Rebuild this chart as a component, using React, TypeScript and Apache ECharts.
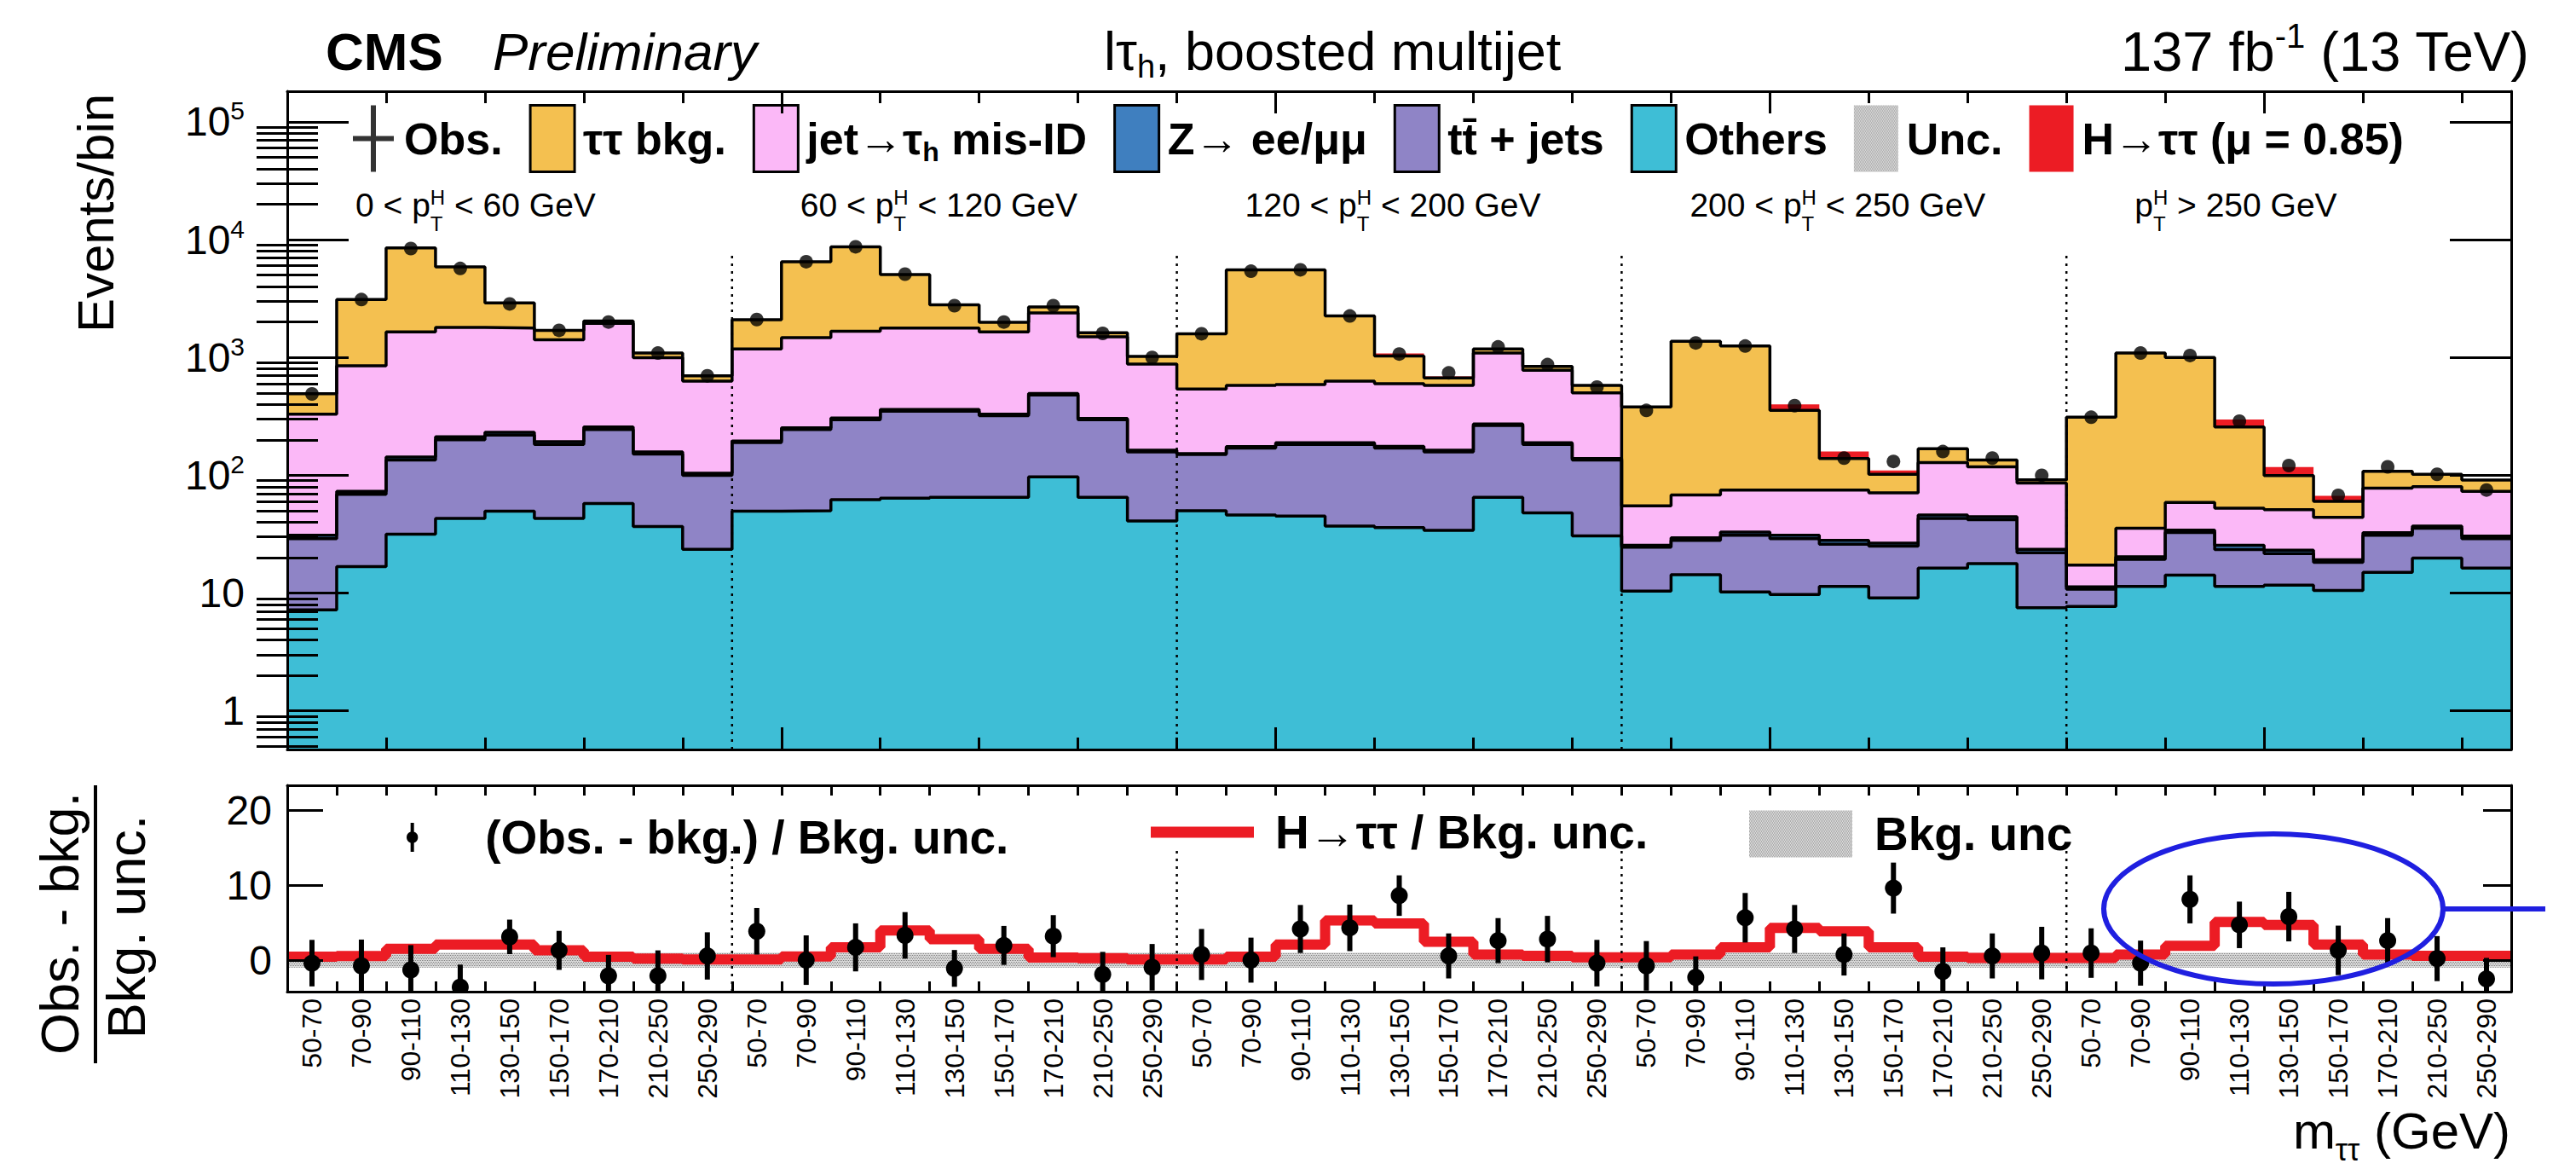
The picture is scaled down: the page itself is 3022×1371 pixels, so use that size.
import React, { useEffect, useRef } from 'react';
import * as echarts from 'echarts';

const FONT = 'Liberation Sans';

// ---------------- data ----------------
const massBins = ['50-70', '70-90', '90-110', '110-130', '130-150', '150-170', '170-210', '210-250', '250-290'];
const ptCategories: [string, string][] = [
  ['0 < ', ' < 60 GeV'],
  ['60 < ', ' < 120 GeV'],
  ['120 < ', ' < 200 GeV'],
  ['200 < ', ' < 250 GeV'],
  ['', ' > 250 GeV'],
];

const others = [
  7.2, 16.8, 31.6, 43, 49.6, 43, 57.6, 36.7, 23.5,
  49.6, 50, 62, 64, 65, 65, 97, 65, 41,
  50, 46, 45, 37, 36, 34, 65, 48, 30.6,
  10.4, 14.3, 10.2, 9.7, 11.4, 9.1, 16.3, 17.8, 7.5,
  7.7, 11.4, 14.2, 11.4, 11.7, 10.5, 15, 19.8, 16.3,
];
const ttbar = [
  21.8, 52.2, 103, 157, 170, 140, 187, 115, 76.5,
  140, 195, 234, 286, 285, 255, 383, 231, 117,
  100, 124, 138, 146, 134, 124, 200, 135, 104,
  14.1, 13.7, 20.8, 19.3, 14.6, 15.9, 26.7, 24.2, 14.5,
  3.1, 7.9, 18.5, 12, 9.9, 7.7, 16, 15.7, 12.7,
];
const zll = [
  2, 4, 8, 12, 12, 10, 12, 6, 4,
  6, 8, 10, 12, 12, 10, 14, 8, 5,
  3, 5, 6, 6, 6, 5, 8, 6, 4,
  1, 1.5, 2, 2, 2, 1.5, 3, 2.5, 1.5,
  0.5, 1, 1.5, 2, 1.5, 1, 1.5, 1.5, 1.5,
];
const misid = [
  299, 777, 1507, 1588, 1548, 1217, 1693, 837, 526,
  984, 1217, 1364, 1418, 1418, 1320, 1896, 1196, 714,
  387, 405, 401, 441, 424, 417, 817, 591, 361,
  29.5, 38.5, 42, 44, 47, 44.5, 82, 73.5, 62.5,
  6, 15.2, 24.5, 27.1, 27.9, 24.8, 45.1, 43, 42.5,
];
const tautau = [
  163, 2250, 6850, 4070, 1120, 290, 90, 95, 70,
  910, 5030, 7030, 3270, 1020, 340, 290, 120, 143,
  1050, 4970, 4960, 1620, 430, 90, 90, 60, 80,
  325, 1302, 1175, 281, 64, 31, 40, 17, 5.5,
  294, 1055, 941, 204.5, 48.5, 16, 30.4, 22, 18,
];
const signal = [
  2, 6, 25, 45, 40, 20, 8, 3, 1,
  2, 8, 30, 70, 55, 25, 8, 3, 1,
  2, 6, 25, 60, 50, 20, 8, 3, 1,
  1, 3, 12, 44, 20, 8, 3, 1, 0.5,
  1, 3, 12, 40, 18, 7, 3, 1, 0.5,
];
const observed = [
  490, 3100, 8400, 5700, 2850, 1700, 2000, 1090, 700,
  2100, 6500, 8700, 5100, 2750, 2000, 2750, 1600, 1000,
  1590, 5400, 5550, 2250, 1070, 740, 1230, 870, 560,
  355, 1330, 1250, 390, 140, 131, 159, 140, 100,
  311, 1090, 1040, 288, 121, 67.5, 118, 102, 75,
];
// (Obs. - bkg.) / Bkg. unc.
const pull = [
  -0.4, -0.76, -1.3, -3.6, 3.1, 1.3, -2.1, -2.1, 0.56,
  3.84, 0, 1.7, 3.3, -1.1, 1.96, 3.2, -1.9, -0.95,
  0.75, 0, 4.15, 4.3, 8.6, 0.56, 2.6, 2.8, -0.4,
  -0.76, -2.3, 5.65, 4.15, 0.75, 9.6, -1.5, 0.56, 0.94,
  0.94, -0.4, 8.1, 4.7, 5.8, 1.3, 2.6, 0.2, -2.5,
];
const pullErr = [
  3.1, 3.5, 3.3, 3.0, 2.3, 2.6, 2.8, 3.4, 3.15,
  3.1, 3.3, 3.2, 3.1, 2.45, 2.6, 2.8, 3.0, 3.1,
  3.4, 3.0, 3.2, 3.1, 2.7, 3.0, 3.0, 3.1, 3.1,
  3.3, 2.8, 3.3, 3.2, 2.8, 3.4, 3.2, 3.0, 3.5,
  3.3, 3.0, 3.2, 3.1, 3.3, 3.3, 3.0, 3.0, 2.8,
];
// H->tautau / Bkg. unc.
const signalOverUnc = [
  0.45, 0.55, 1.5, 2.07, 2.07, 1.3, 0.45, 0.2, 0.1,
  0.1, 0.5, 1.7, 3.95, 2.8, 1.5, 0.35, 0.25, 0.1,
  0.1, 0.45, 2.07, 5.3, 4.9, 2.45, 0.75, 0.56, 0.38,
  0.38, 0.75, 1.7, 4.3, 3.84, 1.7, 0.45, 0.3, 0.3,
  0.3, 0.75, 1.9, 5.1, 4.7, 2.07, 0.75, 0.56, 0.56,
];
const uncBand = [-1, 1];
const logLabelTicks = [1, 10, 100, 1000, 10000, 100000];
const ratioLabelTicks = [0, 10, 20];

const COLORS = {
  tautau: '#f4c050',
  misid: '#fbb8f7',
  zll: '#3f7fbf',
  ttbar: '#8f84c6',
  others: '#3ebed6',
  signal: '#ec1c24',
};

// ---------------- helpers ----------------
type Run = { t: string; size: number; dy?: number; weight?: string; style?: string; stackNext?: boolean };
let measureCtx: CanvasRenderingContext2D | null = null;
function measure(r: Run): number {
  if (!measureCtx) measureCtx = document.createElement('canvas').getContext('2d');
  measureCtx!.font = `${r.style || 'normal'} ${r.weight || 'normal'} ${r.size}px "${FONT}"`;
  return measureCtx!.measureText(r.t).width;
}
function runsElements(runs: Run[], x: number, y: number, align: 'left' | 'center' | 'right') {
  const placed: { r: Run; dx: number }[] = [];
  let cur = 0;
  for (let i = 0; i < runs.length; i++) {
    const r = runs[i];
    if (r.stackNext && i + 1 < runs.length) {
      const r2 = runs[i + 1];
      placed.push({ r, dx: cur });
      placed.push({ r: r2, dx: cur });
      cur += Math.max(measure(r), measure(r2));
      i++;
    } else {
      placed.push({ r, dx: cur });
      cur += measure(r);
    }
  }
  const x0 = align === 'left' ? x : align === 'center' ? x - cur / 2 : x - cur;
  return placed.map(({ r, dx }) => ({
    type: 'text',
    x: x0 + dx,
    y: y + (r.dy || 0),
    z: 100,
    silent: true,
    style: {
      text: r.t,
      fontSize: r.size,
      fontFamily: FONT,
      fontWeight: r.weight || 'normal',
      fontStyle: r.style || 'normal',
      fill: '#000',
      align: 'left',
      verticalAlign: 'middle',
    },
  }));
}

function makeHatch() {
  const c = document.createElement('canvas');
  c.width = 4;
  c.height = 4;
  const g = c.getContext('2d')!;
  g.fillStyle = 'rgba(150,150,150,0.35)';
  g.fillRect(0, 0, 4, 4);
  g.fillStyle = 'rgba(90,90,90,0.7)';
  g.fillRect(0, 0, 1, 1);
  g.fillRect(2, 0, 1, 1);
  g.fillRect(1, 2, 1, 1);
  g.fillRect(3, 2, 1, 1);
  return { image: c, repeat: 'repeat' };
}

function buildOption() {
  const N = observed.length;
  const nMass = massBins.length;
  const gridL = 337, gridT = 107, gridW = 2609, gridH = 772;
  const rT = 921, rH = 242;
  const binW = gridW / N;
  const yMin = 0.47, yMax = 182000;
  const rMin = -4.2, rMax = 23.3;
  const hatch = makeHatch();

  const add = (a: number[], b: number[]) => a.map((v, i) => v + b[i]);
  const cOthers = others;
  const cTt = add(cOthers, ttbar);
  const cZ = add(cTt, zll);
  const cMis = add(cZ, misid);
  const cTau = add(cMis, tautau);
  const cSig = add(cTau, signal);
  const stepData = (v: number[]) => [...v.map((y, i) => [i, y]), [v.length, v[v.length - 1]]];

  const stackSeries = (name: string, vals: number[], color: string, outline = true) => ({
    type: 'line',
    name,
    xAxisIndex: 0,
    yAxisIndex: 0,
    data: stepData(vals),
    step: 'end',
    symbol: 'none',
    showSymbol: false,
    silent: true,
    z: 2,
    itemStyle: { color },
    lineStyle: outline ? { color: '#000', width: 3.5 } : { color, width: 0, opacity: 0 },
    areaStyle: { color, opacity: 1, origin: 'start' },
  });

  const separators = [1, 2, 3, 4].map((c) => c * nMass);
  const sepSeries = (xi: number, yi: number, lo: number, hi: number) => ({
    type: 'custom',
    xAxisIndex: xi,
    yAxisIndex: yi,
    silent: true,
    z: 4,
    data: separators.map((x) => [x, lo, hi]),
    encode: { x: 0, y: [1, 2] },
    renderItem: (_p: any, api: any) => {
      const a = api.coord([api.value(0), api.value(1)]);
      const b = api.coord([api.value(0), api.value(2)]);
      return {
        type: 'line',
        shape: { x1: a[0], y1: a[1], x2: b[0], y2: b[1] },
        style: { stroke: '#000', lineWidth: 2.5, lineDash: [3, 6] },
      };
    },
  });

  // tick layouts
  const mainXMajor: number[] = [];
  const mainXMinor: number[] = [];
  for (let k = 1; k < N; k++) {
    if (k % 10 === 0) mainXMajor.push(k);
    else if (k % 2 === 0) mainXMinor.push(k);
  }
  const ratioXTicks: number[] = [];
  for (let k = 1; k < N; k++) ratioXTicks.push(k);
  const ratioXCenters = observed.map((_, i) => i + 0.5);
  const logMinor: number[] = [];
  for (let e = -1; e <= 5; e++) {
    for (let m = 2; m <= 9; m++) {
      const v = m * Math.pow(10, e);
      if (v > yMin && v < yMax) logMinor.push(v);
    }
  }

  const axLine = { color: '#000', width: 3 };
  const tickLine = { color: '#000', width: 3 };
  const xAx = (grid: number, position: string, ticks: number[], len: number, extra: any = {}) => ({
    type: 'value',
    gridIndex: grid,
    position,
    min: 0,
    max: N,
    z: 10,
    axisLine: { show: true, onZero: false, lineStyle: axLine },
    axisTick: { show: true, inside: true, length: len, customValues: ticks, lineStyle: tickLine },
    axisLabel: { show: false },
    splitLine: { show: false },
    minorTick: { show: false },
    ...extra,
  });
  const yAx = (grid: number, position: string, type: string, min: number, max: number, ticks: number[], len: number, extra: any = {}) => ({
    type,
    gridIndex: grid,
    position,
    min,
    max,
    z: 10,
    axisLine: { show: true, onZero: false, lineStyle: axLine },
    axisTick: { show: true, inside: true, length: len, customValues: ticks, lineStyle: tickLine },
    axisLabel: { show: false },
    splitLine: { show: false },
    minorTick: { show: false },
    ...extra,
  });

  const legendText = (size: number, lh: number) => ({
    fontFamily: FONT,
    fontSize: size,
    fontWeight: 'bold',
    color: '#000',
    lineHeight: lh,
  });

  const graphics: any[] = [];
  graphics.push(...runsElements([{ t: 'CMS', size: 62, weight: 'bold' }], 382, 60, 'left'));
  graphics.push(...runsElements([{ t: 'Preliminary', size: 62, style: 'italic' }], 578, 60, 'left'));
  graphics.push(
    ...runsElements(
      [{ t: 'lτ', size: 63 }, { t: 'h', size: 38, dy: 18 }, { t: ', boosted multijet', size: 63 }],
      1295, 60, 'left'
    )
  );
  graphics.push(
    ...runsElements(
      [{ t: '137 fb', size: 65 }, { t: '-1', size: 40, dy: -18 }, { t: ' (13 TeV)', size: 65 }],
      2968, 60, 'right'
    )
  );
  ptCategories.forEach(([before, after], c) => {
    graphics.push(
      ...runsElements(
        [
          { t: before + 'p', size: 39 },
          { t: 'H', size: 24, dy: -9, stackNext: true },
          { t: 'T', size: 24, dy: 22 },
          { t: after, size: 39 },
        ],
        gridL + c * nMass * binW + 80, 240, 'left'
      )
    );
  });
  graphics.push({
    type: 'text', x: 112, y: 250, rotation: Math.PI / 2, z: 100, silent: true,
    style: { text: 'Events/bin', fontSize: 60, fontFamily: FONT, fill: '#000', align: 'center', verticalAlign: 'middle' },
  });
  graphics.push({
    type: 'text', x: 70, y: 1083, rotation: Math.PI / 2, z: 100, silent: true,
    style: { text: 'Obs. - bkg.', fontSize: 63, fontFamily: FONT, fill: '#000', align: 'center', verticalAlign: 'middle' },
  });
  graphics.push({
    type: 'text', x: 148, y: 1087, rotation: Math.PI / 2, z: 100, silent: true,
    style: { text: 'Bkg. unc.', fontSize: 63, fontFamily: FONT, fill: '#000', align: 'center', verticalAlign: 'middle' },
  });
  graphics.push({
    type: 'line', z: 100, silent: true,
    shape: { x1: 112, y1: 921, x2: 112, y2: 1247 },
    style: { stroke: '#000', lineWidth: 4 },
  });
  graphics.push(
    ...runsElements(
      [{ t: 'm', size: 60 }, { t: 'ττ', size: 36, dy: 22 }, { t: ' (GeV)', size: 60 }],
      2945, 1326, 'right'
    )
  );
  graphics.push({
    type: 'ellipse', z: 100, silent: true,
    shape: { cx: 2667, cy: 1066, rx: 199, ry: 88 },
    style: { fill: 'none', stroke: '#1f1fe0', lineWidth: 6 },
  });
  graphics.push({
    type: 'line', z: 100, silent: true,
    shape: { x1: 2866, y1: 1066, x2: 2986, y2: 1066 },
    style: { stroke: '#1f1fe0', lineWidth: 6 },
  });

  const obsIcon = 'path://M21,0H27V36H48V42H27V78H21V42H0V36H21Z';
  const pullIcon = 'path://M5,0H9V10.4A7,7 0 0 1 9,23.6V34H5V23.6A7,7 0 0 1 5,10.4Z';

  return {
    animation: false,
    backgroundColor: '#fff',
    textStyle: { fontFamily: FONT },
    grid: [
      { left: gridL, top: gridT, width: gridW, height: gridH, outerBoundsMode: 'none' },
      { left: gridL, top: rT, width: gridW, height: rH, outerBoundsMode: 'none' },
    ],
    xAxis: [
      xAx(0, 'bottom', mainXMajor, 26),
      xAx(0, 'bottom', mainXMinor, 14, { axisLine: { show: false } }),
      xAx(0, 'top', mainXMajor, 26),
      xAx(0, 'top', mainXMinor, 14, { axisLine: { show: false } }),
      xAx(1, 'bottom', ratioXTicks, 12, {
        axisLabel: {
          show: true,
          customValues: ratioXCenters,
          formatter: (v: number) => massBins[Math.floor(v) % nMass],
          rotate: 90,
          fontSize: 32,
          fontFamily: FONT,
          color: '#000',
          margin: 8,
        },
      }),
      xAx(1, 'top', ratioXTicks, 12),
    ],
    yAxis: [
      yAx(0, 'left', 'log', yMin, yMax, logLabelTicks, 72, {
        axisLabel: {
          show: true,
          customValues: logLabelTicks,
          margin: 50,
          fontSize: 48,
          fontFamily: FONT,
          color: '#000',
          lineHeight: 56,
          formatter: (v: number) => {
            const e = Math.round(Math.log10(v));
            if (e === 0) return '1';
            if (e === 1) return '10';
            return `10{sup|${e}}`;
          },
          rich: {
            sup: { fontSize: 30, fontFamily: FONT, color: '#000', verticalAlign: 'top', lineHeight: 30 },
          },
        },
      }),
      yAx(0, 'left', 'log', yMin, yMax, logMinor, 36, { axisLine: { show: false } }),
      yAx(0, 'right', 'log', yMin, yMax, logLabelTicks, 72),
      yAx(0, 'right', 'log', yMin, yMax, logMinor, 36, { axisLine: { show: false } }),
      yAx(1, 'left', 'value', rMin, rMax, ratioLabelTicks, 42, {
        axisLabel: {
          show: true,
          customValues: ratioLabelTicks,
          margin: 18,
          fontSize: 48,
          fontFamily: FONT,
          color: '#000',
        },
      }),
      yAx(1, 'right', 'value', rMin, rMax, ratioLabelTicks, 33),
    ],
    legend: [
      {
        left: 414,
        top: 122,
        orient: 'horizontal',
        padding: 0,
        itemWidth: 52,
        itemHeight: 78,
        itemGap: 31,
        selectedMode: false,
        textStyle: {
          ...legendText(52, 62),
          padding: [0, 0, 0, 5],
          rich: {
            sub: { fontFamily: FONT, fontSize: 32, fontWeight: 'bold', color: '#000', verticalAlign: 'bottom', lineHeight: 20 },
          },
        },
        formatter: (name: string) => (name === 'jet→τh mis-ID' ? 'jet→τ{sub|h} mis-ID' : name),
        data: [
          { name: 'Obs.', icon: obsIcon, itemStyle: { color: '#000', borderWidth: 0 } },
          { name: 'ττ bkg.', icon: 'rect', itemStyle: { color: COLORS.tautau, borderColor: '#000', borderWidth: 3 } },
          { name: 'jet→τh mis-ID', icon: 'rect', itemStyle: { color: COLORS.misid, borderColor: '#000', borderWidth: 3 } },
          { name: 'Z→ ee/μμ', icon: 'rect', itemStyle: { color: COLORS.zll, borderColor: '#000', borderWidth: 3 } },
          { name: 'tt̄ + jets', icon: 'rect', itemStyle: { color: COLORS.ttbar, borderColor: '#000', borderWidth: 3 } },
          { name: 'Others', icon: 'rect', itemStyle: { color: COLORS.others, borderColor: '#000', borderWidth: 3 } },
          { name: 'Unc.', icon: 'rect', itemStyle: { color: hatch, borderWidth: 0 } },
          { name: 'H→ττ (μ = 0.85)', icon: 'rect', itemStyle: { color: COLORS.signal, borderWidth: 0 } },
        ],
      },
      {
        left: 477, top: 952, padding: 0, itemWidth: 121, itemHeight: 34, selectedMode: false,
        textStyle: { ...legendText(55, 60), padding: [0, 0, 0, 20] },
        data: [{ name: '(Obs. - bkg.) / Bkg. unc.', icon: pullIcon, itemStyle: { color: '#000', borderWidth: 0 } }],
      },
      {
        left: 1350, top: 946, padding: 0, itemWidth: 121, itemHeight: 13, selectedMode: false,
        textStyle: { ...legendText(55, 60), padding: [0, 0, 0, 20] },
        data: [{ name: 'H→ττ / Bkg. unc.', icon: 'rect', itemStyle: { color: COLORS.signal, borderWidth: 0 } }],
      },
      {
        left: 2052, top: 948, padding: 0, itemWidth: 121, itemHeight: 55, selectedMode: false,
        textStyle: { ...legendText(55, 60), padding: [0, 0, 0, 21] },
        data: [{ name: 'Bkg. unc', icon: 'rect', itemStyle: { color: hatch, borderWidth: 0 } }],
      },
    ],
    graphic: { elements: graphics },
    series: [
      stackSeries('H→ττ (μ = 0.85)', cSig, COLORS.signal, false),
      stackSeries('ττ bkg.', cTau, COLORS.tautau),
      stackSeries('jet→τh mis-ID', cMis, COLORS.misid),
      stackSeries('Z→ ee/μμ', cZ, COLORS.zll),
      stackSeries('tt̄ + jets', cTt, COLORS.ttbar),
      stackSeries('Others', cOthers, COLORS.others),
      {
        type: 'custom', name: 'Unc.', xAxisIndex: 0, yAxisIndex: 0, data: [],
        itemStyle: { color: hatch }, renderItem: () => null,
      },
      sepSeries(0, 0, yMin, 8000),
      {
        type: 'scatter', name: 'Obs.', xAxisIndex: 0, yAxisIndex: 0,
        data: observed.map((v, i) => [i + 0.5, v]),
        symbolSize: 16, itemStyle: { color: '#000' }, z: 6, silent: true,
      },
      // ratio panel
      {
        type: 'custom', name: 'Bkg. unc', xAxisIndex: 4, yAxisIndex: 4, silent: true, z: 2,
        itemStyle: { color: hatch },
        data: [[0, N, uncBand[0], uncBand[1]]],
        encode: { x: [0, 1], y: [2, 3] },
        renderItem: (_p: any, api: any) => {
          const a = api.coord([api.value(0), api.value(3)]);
          const b = api.coord([api.value(1), api.value(2)]);
          return { type: 'rect', shape: { x: a[0], y: a[1], width: b[0] - a[0], height: b[1] - a[1] }, style: { fill: hatch } };
        },
      },
      {
        type: 'line', name: 'H→ττ / Bkg. unc.', xAxisIndex: 4, yAxisIndex: 4,
        data: stepData(signalOverUnc), step: 'end', symbol: 'none', showSymbol: false, silent: true, z: 3,
        lineStyle: { color: COLORS.signal, width: 12 }, itemStyle: { color: COLORS.signal },
      },
      sepSeries(4, 4, rMin, 14.7),
      {
        type: 'custom', name: '(Obs. - bkg.) / Bkg. unc.', xAxisIndex: 4, yAxisIndex: 4, clip: true, silent: true, z: 5,
        itemStyle: { color: '#000' },
        data: pull.map((v, i) => [i + 0.5, v, pullErr[i]]),
        encode: { x: 0, y: 1 },
        renderItem: (_p: any, api: any) => {
          const x = api.value(0), y = api.value(1), e = api.value(2);
          const top = api.coord([x, y + e]);
          const bot = api.coord([x, y - e]);
          const c = api.coord([x, y]);
          return {
            type: 'group',
            children: [
              { type: 'line', shape: { x1: top[0], y1: top[1], x2: bot[0], y2: bot[1] }, style: { stroke: '#000', lineWidth: 6 } },
              { type: 'circle', shape: { cx: c[0], cy: c[1], r: 10 }, style: { fill: '#000' } },
            ],
          };
        },
      },
    ],
  };
}

export default function App() {
  const ref = useRef<HTMLDivElement>(null);
  useEffect(() => {
    const chart = echarts.init(ref.current!, null, { renderer: 'svg' });
    chart.setOption(buildOption() as any);
    return () => chart.dispose();
  }, []);
  return (
    <div
      ref={ref}
      style={{ position: 'fixed', left: 0, top: 0, width: 3022, height: 1371, background: '#fff' }}
    />
  );
}
